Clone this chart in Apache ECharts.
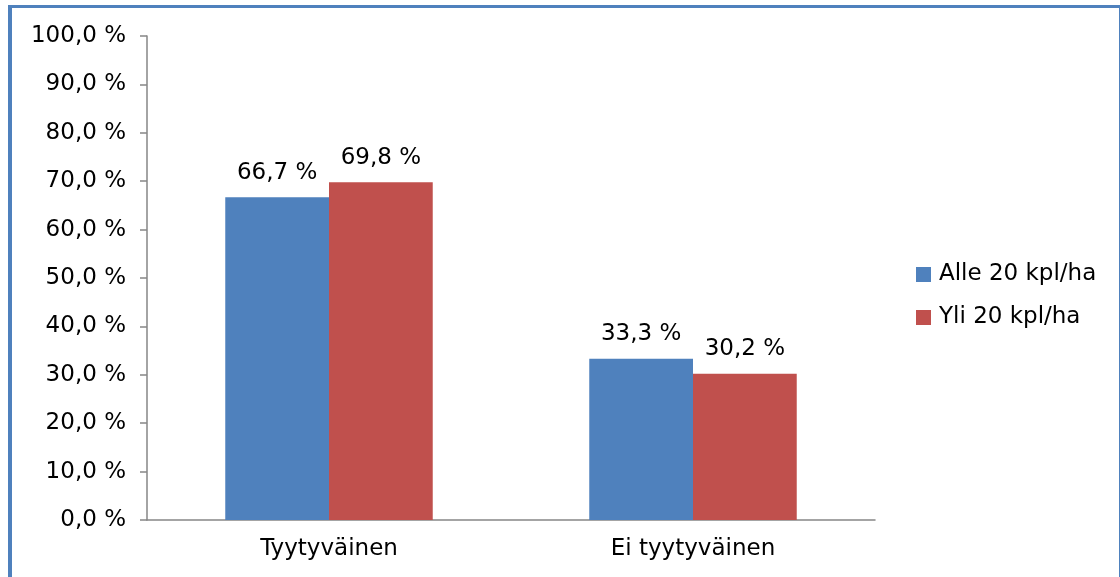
<!DOCTYPE html>
<html>
<head>
<meta charset="utf-8">
<script src="https://cdn.jsdelivr.net/npm/echarts@6/dist/echarts.min.js"></script>
<style>
  html, body { margin: 0; padding: 0; background: #fff; }
  .frame {
    position: absolute;
    left: 8px; top: 5px;
    width: 1107px; height: 580px;
    border-top: 3px solid #4f81bd;
    border-left: 4px solid #4f81bd;
    border-right: 1px solid #4f81bd;
  }
  #chart { position: absolute; left: 0; top: 0; width: 1120px; height: 577px; }
</style>
</head>
<body>
<div class="frame"></div>
<div id="chart"></div>
<script>
  const categories = ['Tyytyväinen', 'Ei tyytyväinen'];
  const seriesNames = ['Alle 20 kpl/ha', 'Yli 20 kpl/ha'];
  const alle = [66.7, 33.3];
  const yli = [69.8, 30.2];
  const colors = ['#4f81bd', '#c0504d'];

  const fmt = v => v.toFixed(1).replace('.', ',') + ' %';
  const font = 'DejaVu Sans';

  let chart = echarts.init(document.getElementById('chart'));
  let labelStyle = {
    show: true,
    position: 'top',
    distance: 13,
    color: '#000',
    fontSize: 23,
    fontFamily: font,
    formatter: p => fmt(p.value)
  };
  let option = {
    animation: false,
    textStyle: { fontFamily: font },
    grid: { left: 147, right: 245, top: 36, bottom: 57 },
    legend: {
      orient: 'vertical',
      left: 911,
      top: 258,
      itemWidth: 15,
      itemHeight: 15,
      itemGap: 20,
      icon: 'rect',
      textStyle: { fontSize: 23, color: '#000', fontFamily: font, padding: [0, 0, 0, 3] },
      data: seriesNames
    },
    xAxis: {
      type: 'category',
      data: categories,
      axisLine: { lineStyle: { color: '#868686', width: 1.5 } },
      axisTick: { length: 7, lineStyle: { color: '#868686', width: 1.5 } },
      axisLabel: { color: '#000', fontSize: 23, fontFamily: font, margin: 18 }
    },
    yAxis: {
      type: 'value',
      min: 0,
      max: 100,
      interval: 10,
      splitLine: { show: false },
      axisLine: { show: true, lineStyle: { color: '#868686', width: 1.5 } },
      axisTick: { show: true, length: 7, lineStyle: { color: '#868686', width: 1.5 } },
      axisLabel: { color: '#000', fontSize: 23, fontFamily: font, margin: 21, formatter: v => fmt(v) }
    },
    series: [
      {
        name: seriesNames[0],
        type: 'bar',
        data: alle,
        barGap: '0%',
        barCategoryGap: '43%',
        itemStyle: { color: colors[0] },
        label: labelStyle
      },
      {
        name: seriesNames[1],
        type: 'bar',
        data: yli,
        itemStyle: { color: colors[1] },
        label: labelStyle
      }
    ]
  };
  chart.setOption(option);
</script>
</body>
</html>
